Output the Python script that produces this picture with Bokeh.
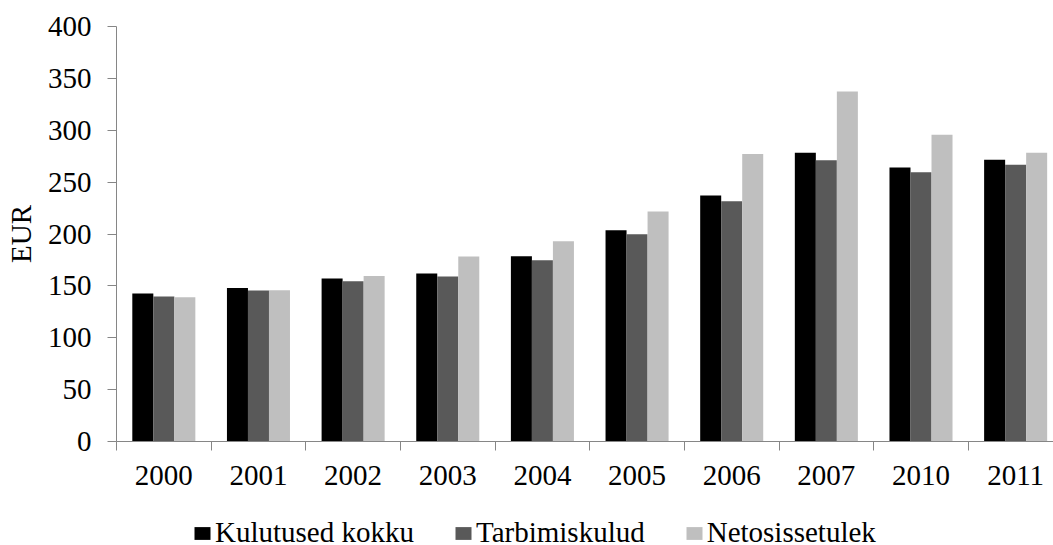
from bokeh.plotting import figure
from bokeh.models import ColumnDataSource, Range1d, FixedTicker, Legend, LegendItem
from bokeh.layouts import column
from bokeh.transform import dodge
from bokeh.embed import file_html
from bokeh.resources import INLINE

years = ["2000", "2001", "2002", "2003", "2004", "2005", "2006", "2007", "2010", "2011"]
kulutused = [142.6, 148.0, 157.0, 162.0, 178.5, 203.5, 237.0, 278.3, 264.0, 271.6]
tarbimis = [139.7, 145.5, 154.5, 159.0, 174.7, 199.7, 231.5, 271.0, 259.4, 266.8]
neto = [139.0, 145.8, 159.6, 178.2, 193.0, 221.8, 277.0, 337.3, 295.7, 278.3]
series_names = ["Kulutused kokku", "Tarbimiskulud", "Netosissetulek"]
colors = ["#000000", "#595959", "#BFBFBF"]
y_ticks = [0, 50, 100, 150, 200, 250, 300, 350, 400]

FONT = "Liberation Serif"
FS = "29px"
AX = "#868686"
W = 1053

centers = [i + 0.5 for i in range(len(years))]
src = ColumnDataSource(dict(x=centers, k=kulutused, t=tarbimis, n=neto))

p = figure(width=W, height=497, output_backend="svg", toolbar_location=None,
           x_range=Range1d(0, len(years) - 0.1), y_range=Range1d(0, 400),
           min_border_left=116, min_border_top=26, min_border_bottom=56,
           min_border_right=0)
p.outline_line_color = None
p.grid.grid_line_color = None

bw = 0.222
for col, off, c in zip(["k", "t", "n"], [-bw, 0, bw], colors):
    p.vbar(x=dodge("x", off, range=p.x_range), top=col, width=bw, bottom=0,
           source=src, fill_color=c, line_color=None)

# x axis
xa = p.xaxis[0]
xa.ticker = FixedTicker(ticks=centers, minor_ticks=list(range(len(years) + 1)))
xa.major_label_overrides = {c: y for c, y in zip(centers, years)}
xa.major_tick_line_color = None
xa.major_tick_out = 0
xa.major_tick_in = 0
xa.minor_tick_out = 9
xa.minor_tick_in = 0
xa.minor_tick_line_color = AX
xa.axis_line_color = AX
xa.major_label_text_font = FONT
xa.major_label_text_font_size = FS
xa.major_label_text_color = "black"
xa.major_label_standoff = 15

# y axis
ya = p.yaxis[0]
ya.ticker = FixedTicker(ticks=y_ticks)
ya.minor_tick_line_color = None
ya.major_tick_out = 9
ya.major_tick_in = 0
ya.major_tick_line_color = AX
ya.axis_line_color = AX
ya.major_label_text_font = FONT
ya.major_label_text_font_size = FS
ya.major_label_text_color = "black"
ya.major_label_standoff = 16
ya.axis_label = "EUR"
ya.axis_label_text_font = FONT
ya.axis_label_text_font_size = FS
ya.axis_label_text_font_style = "normal"
ya.axis_label_text_color = "black"
ya.axis_label_standoff = 8

# legend strip (frames are aligned with the main plot by the column layout);
# its y range lies far above the data so that the series' bars stay out of view
p2 = figure(width=W, height=48, output_backend="svg", toolbar_location=None,
            x_range=Range1d(0, len(years) - 0.1), y_range=Range1d(100000, 100400),
            min_border=0, x_axis_location=None, y_axis_location=None)
p2.outline_line_color = None
p2.grid.grid_line_color = None
legend_renderers = [p2.vbar(x="x", top=col, bottom=col, width=bw, source=src,
                            fill_color=c, line_color=None)
                    for col, c in zip(["k", "t", "n"], colors)]

legend = Legend(items=[LegendItem(label=n, renderers=[r]) for n, r in zip(series_names, legend_renderers)],
                orientation="horizontal", location=(76, -4))
legend.label_text_font = FONT
legend.label_text_font_size = FS
legend.label_text_color = "black"
legend.glyph_width = 20
legend.glyph_height = 16
legend.label_standoff = 3
legend.spacing = 39
legend.padding = 0
legend.margin = 0
legend.border_line_color = None
legend.background_fill_alpha = 0
p2.add_layout(legend, "center")

layout = column(p, p2, spacing=0)
open("out.html", "w").write(file_html(layout, INLINE))
